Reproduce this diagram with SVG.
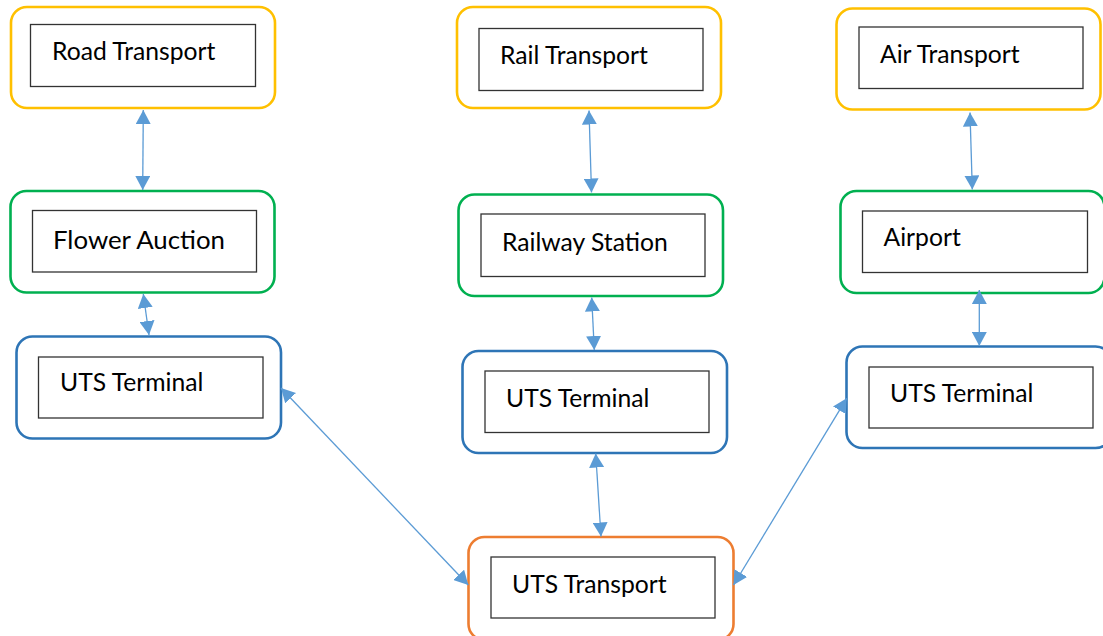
<svg xmlns="http://www.w3.org/2000/svg" width="1103" height="636" viewBox="0 0 1103 636">
<style>
.o{fill:#fff;stroke-width:2.6}
.y{stroke:#FFC000}
.g{stroke:#00B050}
.b{stroke:#2E75B6}
.r{stroke:#ED7D31}
.i{fill:#fff;stroke:#333;stroke-width:1.3}
.t{font-family:Lato,"Liberation Sans",sans-serif;font-size:24.7px;fill:#000}
.c{stroke:#5B9BD5;stroke-width:1.3;fill:none;marker-start:url(#ah);marker-end:url(#ah)}
</style>
<defs>
<marker id="ah" markerUnits="userSpaceOnUse" markerWidth="14" markerHeight="15" refX="14" refY="7.5" orient="auto-start-reverse" viewBox="0 0 14 15">
<path d="M0,0 L14,7.5 L0,15 Z" fill="#5B9BD5"/>
</marker>
</defs>
<rect width="1103" height="636" fill="#fff"/>
<g id="road">
<rect class="o y" x="11" y="7" width="264" height="101" rx="16"/>
<rect class="i" x="30.5" y="24.5" width="225" height="62"/>
<text class="t" x="52" y="60">Road Transport</text>
</g>
<g id="rail">
<rect class="o y" x="457" y="7" width="264" height="101" rx="16"/>
<rect class="i" x="479" y="28.5" width="224" height="62"/>
<text class="t" x="500" y="63.5">Rail Transport</text>
</g>
<g id="air">
<rect class="o y" x="836.5" y="8.5" width="264" height="101" rx="16"/>
<rect class="i" x="859" y="27" width="224" height="61.5"/>
<text class="t" x="880" y="62.5">Air Transport</text>
</g>
<g id="flower">
<rect class="o g" x="10.5" y="191" width="264" height="101.5" rx="16"/>
<rect class="i" x="32.5" y="210.5" width="224" height="61.5"/>
<text class="t" x="53" y="248.5" style="font-size:25.8px">Flower Auction</text>
</g>
<g id="railway">
<rect class="o g" x="458.5" y="194.5" width="264.5" height="101.5" rx="16"/>
<rect class="i" x="481" y="214" width="224" height="62.5"/>
<text class="t" x="502" y="250.5">Railway Station</text>
</g>
<g id="airport">
<rect class="o g" x="840.5" y="191" width="264" height="102" rx="16"/>
<rect class="i" x="862.5" y="211" width="225" height="61.5"/>
<text class="t" x="883.5" y="245.5">Airport</text>
</g>
<g id="uts-left">
<rect class="o b" x="16.5" y="336.5" width="264.5" height="102" rx="16"/>
<rect class="i" x="38.5" y="357" width="224.5" height="61"/>
<text class="t" x="60" y="391">UTS Terminal</text>
</g>
<g id="uts-mid">
<rect class="o b" x="462.5" y="351" width="264.5" height="102" rx="16"/>
<rect class="i" x="485" y="371" width="224" height="61.5"/>
<text class="t" x="506" y="406.5">UTS Terminal</text>
</g>
<g id="uts-right">
<rect class="o b" x="846.5" y="346.5" width="265" height="101.5" rx="16"/>
<rect class="i" x="869" y="367" width="224" height="61"/>
<text class="t" x="890" y="401.5">UTS Terminal</text>
</g>
<g id="uts-transport">
<rect class="o r" x="468.5" y="537" width="265" height="103" rx="16"/>
<rect class="i" x="491" y="557" width="224" height="61"/>
<text class="t" x="512" y="593">UTS Transport</text>
</g>
<g id="connectors">
<line class="c" x1="143.3" y1="110" x2="142.7" y2="190"/>
<line class="c" x1="143.3" y1="294" x2="149" y2="335"/>
<line class="c" x1="589" y1="110.5" x2="591.5" y2="192.5"/>
<line class="c" x1="591.7" y1="297.5" x2="594.3" y2="350"/>
<line class="c" x1="595.7" y1="453.5" x2="601" y2="536.5"/>
<line class="c" x1="970" y1="112.5" x2="972.3" y2="189.5"/>
<line class="c" x1="979.3" y1="290" x2="979.3" y2="346"/>
<line class="c" x1="281" y1="388" x2="468.3" y2="585"/>
<line class="c" x1="846.7" y1="398.3" x2="733.5" y2="585"/>
</g>
</svg>
